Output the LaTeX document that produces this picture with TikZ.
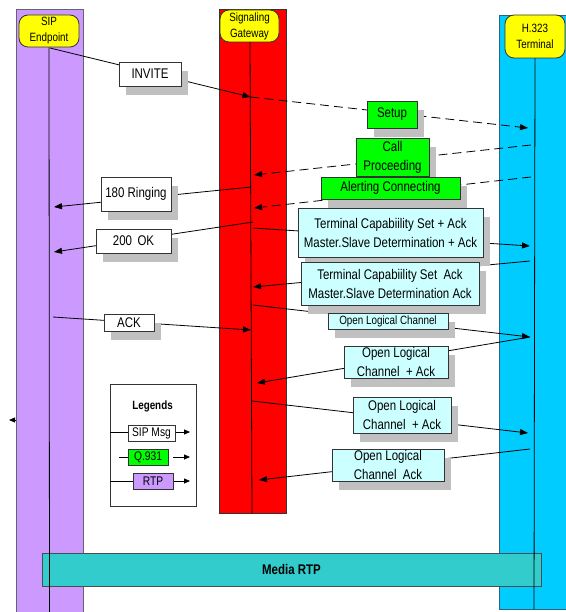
\documentclass[tikz,border=0pt]{standalone}
\usepackage{fontspec}
\setmainfont{Liberation Sans}[FakeStretch=0.82]
\usetikzlibrary{arrows.meta,shadows}
\definecolor{sippurple}{RGB}{204,153,255}
\definecolor{gwred}{RGB}{255,0,0}
\definecolor{hcyanbar}{RGB}{0,204,255}
\definecolor{headyellow}{RGB}{255,255,0}
\definecolor{qgreen}{RGB}{0,255,0}
\definecolor{hcyan}{RGB}{204,255,255}
\definecolor{shgray}{RGB}{192,192,192}
\definecolor{mediateal}{RGB}{51,204,204}
\definecolor{colborder}{RGB}{100,100,110}
\definecolor{cyanborder}{RGB}{40,100,130}
\begin{document}
\begin{tikzpicture}[x=1pt,y=-1pt,
  column/.style={line width=1pt},
  head/.style={draw=black!80, fill=headyellow, rounded corners=9pt, line width=0.8pt, inner sep=0pt, align=center, font=\fontsize{12}{16}\selectfont},
  msg/.style={draw=black!80, line width=0.8pt, inner sep=0pt, align=center, font=\fontsize{14}{19}\selectfont,
    drop shadow={shadow xshift=7pt, shadow yshift=-9pt, fill=shgray, opacity=1}},
  sipmsg/.style={msg, fill=white},
  qmsg/.style={msg, fill=qgreen},
  hmsg/.style={msg, fill=hcyan},
  flow/.style={line width=0.8pt, -{Triangle[length=8pt,width=6pt]}},
  qflow/.style={flow, dash pattern=on 9pt off 5pt},
  lifeline/.style={line width=0.8pt, black},
  legbox/.style={draw=black!80, line width=0.8pt, inner sep=0pt, align=center, font=\fontsize{12.5}{14}\selectfont},
  legflow/.style={line width=0.8pt, -{Triangle[length=6pt,width=5pt]}},
]
\useasboundingbox (0,0) rectangle (565,612);

% columns
\path[column, fill=sippurple, draw=colborder] (16,9.5) rectangle (83,613);
\path[column, fill=gwred, draw=black!80] (219,9.5) rectangle (286,513);
\path[column, fill=hcyanbar, draw=cyanborder] (499,16) rectangle (568,609);

% media bar
\node[draw=black!70, fill=mediateal, line width=0.8pt, minimum width=499pt, minimum height=33pt, inner sep=0pt,
  font=\fontsize{14}{16}\selectfont\bfseries] (media) at (291.5,569.5) {Media RTP};

% heads
\node[head, minimum width=60pt, minimum height=32pt] (sip) at (49,31) {SIP\\Endpoint};
\node[head, minimum width=59pt, minimum height=32pt] (gw) at (249.5,26) {Signaling\\Gateway};
\node[head, minimum width=60pt, minimum height=43pt] (h323) at (535,36.5) {H.323\\Terminal};

% lifelines
\coordinate (sipEnd) at (49.5,613);
\coordinate (gwTop) at (250,42);
\coordinate (gwEnd) at (252,513);
\coordinate (hEnd) at (534,609);
\draw[lifeline] (sip.south) -- (sipEnd);
\draw[lifeline] (gwTop) -- (gwEnd);
\draw[lifeline] (h323.south) -- (hEnd);

% message end points
\coordinate (sipA) at (50,48);
\coordinate (gwA) at (250.5,97);
\coordinate (h1) at (528,128);
\coordinate (h2) at (531,145);
\coordinate (gw2) at (254,175);
\coordinate (h3) at (531,177);
\coordinate (gw3) at (254,208);
\coordinate (gw4) at (251,187);
\coordinate (sip4) at (54,207);
\coordinate (gw5) at (253,222);
\coordinate (sip5) at (54,252);
\coordinate (gw6) at (253,228);
\coordinate (h6) at (530,246);
\coordinate (h7) at (530,261);
\coordinate (gw7) at (253,287);
\coordinate (gw8) at (253,305);
\coordinate (h8) at (530,337);
\coordinate (gw9) at (257,383);
\coordinate (sip10) at (53,317);
\coordinate (gw10) at (251,330);
\coordinate (gw11) at (252,401);
\coordinate (h11) at (528,433);
\coordinate (h12) at (530,449);
\coordinate (gw12) at (259,480);
\coordinate (lone1) at (16,420);
\coordinate (lone0) at (9,420);

% message lines
\draw[flow] (sipA) -- (gwA);
\draw[qflow] (gwA) -- (h1);
\draw[qflow] (h2) -- (gw2);
\draw[qflow] (h3) -- (gw3);
\draw[flow] (gw4) -- (sip4);
\draw[flow] (gw5) -- (sip5);
\draw[flow] (gw6) -- (h6);
\draw[flow] (h7) -- (gw7);
\draw[flow] (gw8) -- (h8);
\draw[flow] (h8) -- (gw9);
\draw[flow] (sip10) -- (gw10);
\draw[flow] (gw11) -- (h11);
\draw[flow] (h12) -- (gw12);
\draw[line width=0.8pt, -{Triangle[length=6pt,width=5pt]}] (lone1) -- (lone0);

% message boxes
\node[sipmsg, minimum width=62pt, minimum height=24pt] (invite) at (150,74) {INVITE};
\node[qmsg, minimum width=50pt, minimum height=27pt] (setup) at (392,114.5) {Setup};
\node[qmsg, minimum width=73pt, minimum height=38pt] (callproc) at (392.5,157) {Call\\Proceeding};
\node[qmsg, minimum width=139pt, minimum height=22pt] (alert) at (390.5,188) {Alerting Connecting};
\node[sipmsg, minimum width=70pt, minimum height=34pt] (ringing) at (136,194) {180 Ringing};
\node[sipmsg, minimum width=75pt, minimum height=24pt] (ok) at (133.5,241) {200 \,OK};
\node[hmsg, minimum width=185pt, minimum height=49pt] (tcs) at (390.5,232.5) {Terminal Capabiility Set + Ack\\Master.Slave Determination + Ack};
\node[hmsg, minimum width=178pt, minimum height=43pt] (tcsack) at (390,283.5) {Terminal Capabiility Set \ Ack\\Master.Slave Determination Ack};
\node[hmsg, minimum width=120pt, minimum height=16pt, font=\fontsize{12}{13}\selectfont] (olc) at (388,321) {Open Logical Channel};
\node[hmsg, minimum width=104pt, minimum height=32pt] (olcack) at (396,362) {Open Logical\\Channel \ + Ack};
\node[sipmsg, minimum width=50pt, minimum height=17pt] (ack) at (129,322.5) {ACK};
\node[hmsg, minimum width=98pt, minimum height=36pt] (olcack2) at (402,415) {Open Logical\\Channel \ + Ack};
\node[hmsg, minimum width=112pt, minimum height=32pt] (olcack3) at (388,465) {Open Logical\\Channel \ Ack};

% legend
\node[draw=black!80, fill=white, line width=0.8pt, minimum width=86pt, minimum height=122pt, inner sep=0pt] (legend) at (153,445) {};
\node[font=\fontsize{12}{14}\selectfont\bfseries] (legtitle) at (152.5,406) {Legends};
\coordinate (l1a) at (110,432);
\coordinate (l1b) at (190,432);
\coordinate (l2a) at (119,457);
\coordinate (l2b) at (128,457);
\coordinate (l2c) at (173,457);
\coordinate (l2d) at (190,457);
\coordinate (l3a) at (110,481);
\coordinate (l3b) at (133,481);
\coordinate (l3c) at (173,481);
\coordinate (l3d) at (190,481);
\draw[legflow] (l1a) -- (l1b);
\draw[line width=0.8pt] (l2a) -- (l2b);
\draw[legflow] (l2c) -- (l2d);
\draw[line width=0.8pt] (l3a) -- (l3b);
\draw[legflow] (l3c) -- (l3d);
\node[legbox, fill=white, minimum width=47pt, minimum height=16pt] (legsip) at (151.5,433) {SIP Msg};
\node[legbox, fill=qgreen, minimum width=40pt, minimum height=16pt] (legq) at (148,457) {Q.931};
\node[legbox, fill=sippurple, minimum width=40pt, minimum height=16pt] (legrtp) at (153,481) {RTP};
\end{tikzpicture}
\end{document}
